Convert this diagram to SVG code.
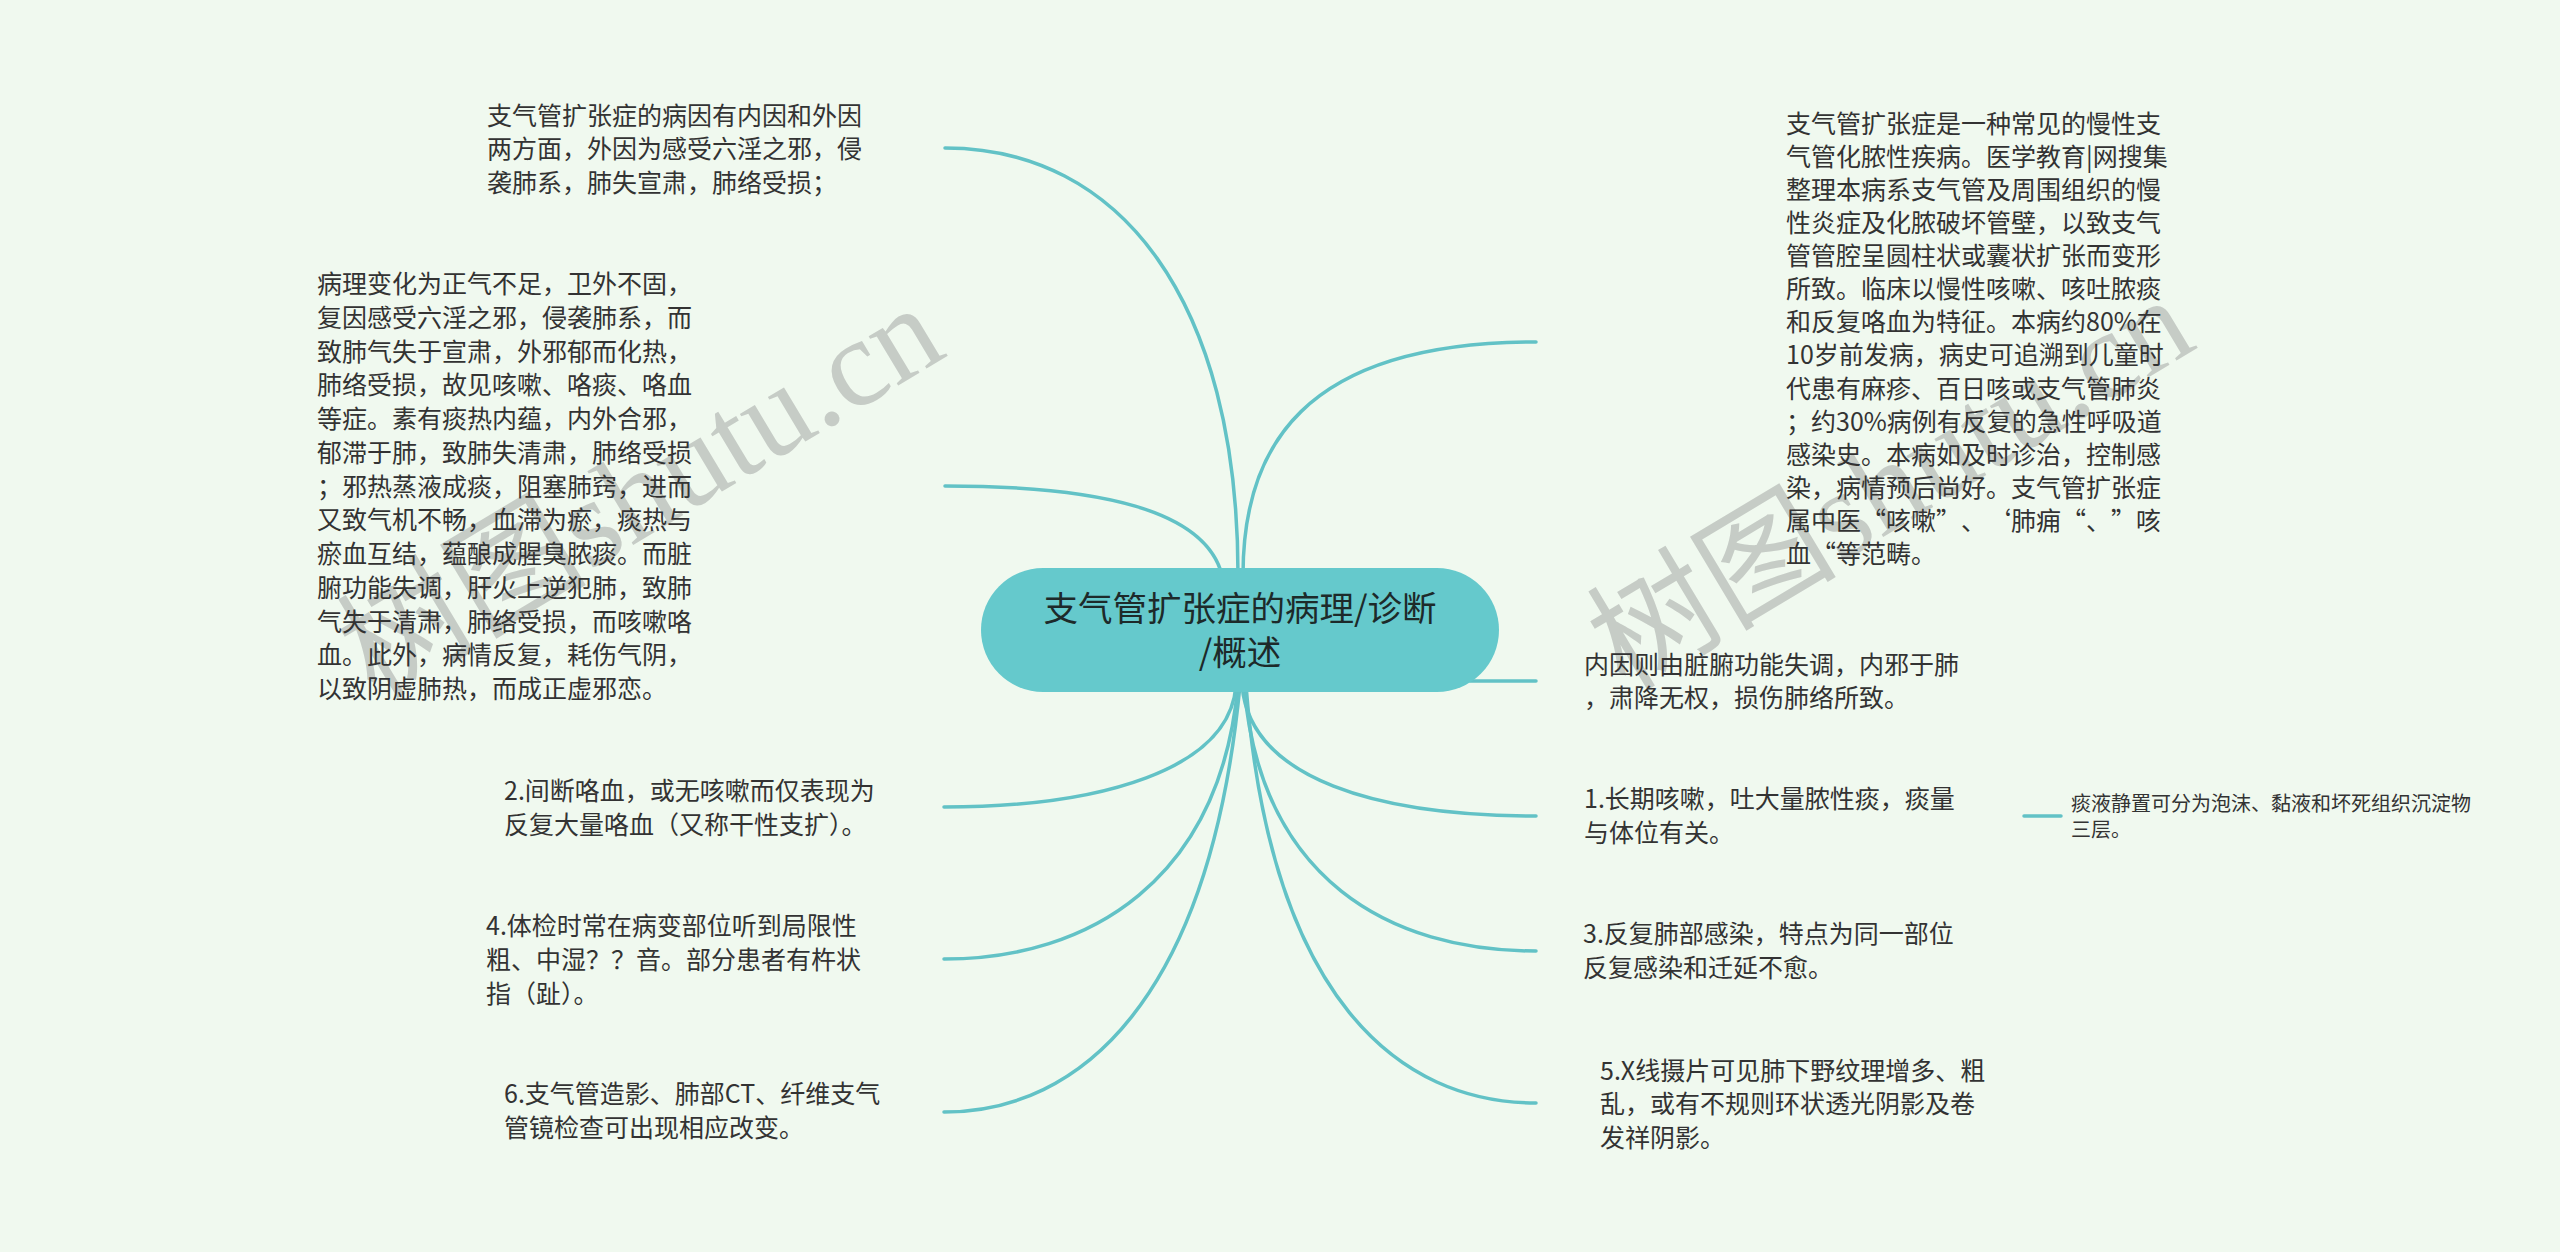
<svg xmlns="http://www.w3.org/2000/svg" width="2560" height="1252" viewBox="0 0 2560 1252">
<style>
.t{font-family:"Noto Sans CJK SC","Noto Sans",sans-serif;font-size:25px;fill:#333333}
.s{font-family:"Noto Sans CJK SC","Noto Sans",sans-serif;font-size:20px;fill:#333333}
.c{font-family:"Noto Sans CJK SC","Noto Sans",sans-serif;font-size:34.5px;fill:#1d2a2a;text-anchor:middle}
.wm{font-family:"Liberation Serif","Noto Sans CJK SC",serif;font-size:125px;fill:#c6ccc6}
.ln{fill:none;stroke:#62c2c6;stroke-width:3.5;stroke-linecap:round}
</style>
<rect x="0" y="0" width="2560" height="1252" fill="#f0f9ef"/>
<g id="watermarks">
<text class="wm" transform="translate(375,700) rotate(-31)">树图shutu.cn</text>
<text class="wm" transform="translate(1625,692) rotate(-31)">树图shutu.cn</text>
</g>
<g id="connectors">
<path class="ln" d="M945,148 C1120,148 1238,300 1238,575"/>
<path class="ln" d="M945,486 C1100,486 1205,510 1222,575"/>
<path class="ln" d="M1243,575 C1243,450 1300,342 1536,342"/>
<path class="ln" d="M1470,681 L1536,681"/>
<path class="ln" d="M1236,685 C1230,770 1100,807 944,807"/>
<path class="ln" d="M1238,685 C1220,880 1090,959 944,959"/>
<path class="ln" d="M1240,685 C1210,1000 1080,1112 944,1112"/>
<path class="ln" d="M1242,685 C1250,780 1380,816 1536,816"/>
<path class="ln" d="M1244,685 C1260,880 1390,951 1536,951"/>
<path class="ln" d="M1246,685 C1270,1000 1400,1103 1536,1103"/>
<path class="ln" d="M2024,816 L2061,816"/>
</g>
<g id="center">
<rect x="981" y="568" width="518" height="124" rx="62" ry="62" fill="#65c9cc"/>
<text class="c"><tspan x="1240" y="621">支气管扩张症的病理/诊断</tspan><tspan x="1240" y="665">/概述</tspan></text>
</g>
<g id="node-l1">
<text class="t"><tspan x="487" y="125">支气管扩张症的病因有内因和外因</tspan><tspan x="487" y="158">两方面，外因为感受六淫之邪，侵</tspan><tspan x="487" y="192">袭肺系，肺失宣肃，肺络受损；</tspan></text>
</g>
<g id="node-l2">
<text class="t"><tspan x="317" y="293">病理变化为正气不足，卫外不固，</tspan><tspan x="317" y="327">复因感受六淫之邪，侵袭肺系，而</tspan><tspan x="317" y="361">致肺气失于宣肃，外邪郁而化热，</tspan><tspan x="317" y="394">肺络受损，故见咳嗽、咯痰、咯血</tspan><tspan x="317" y="428">等症。素有痰热内蕴，内外合邪，</tspan><tspan x="317" y="462">郁滞于肺，致肺失清肃，肺络受损</tspan><tspan x="317" y="496">；邪热蒸液成痰，阻塞肺窍，进而</tspan><tspan x="317" y="529">又致气机不畅，血滞为瘀，痰热与</tspan><tspan x="317" y="563">瘀血互结，蕴酿成腥臭脓痰。而脏</tspan><tspan x="317" y="597">腑功能失调，肝火上逆犯肺，致肺</tspan><tspan x="317" y="631">气失于清肃，肺络受损，而咳嗽咯</tspan><tspan x="317" y="664">血。此外，病情反复，耗伤气阴，</tspan><tspan x="317" y="698">以致阴虚肺热，而成正虚邪恋。</tspan></text>
</g>
<g id="node-l3">
<text class="t"><tspan x="504" y="800">2.间断咯血，或无咳嗽而仅表现为</tspan><tspan x="504" y="834">反复大量咯血（又称干性支扩）。</tspan></text>
</g>
<g id="node-l4">
<text class="t"><tspan x="486" y="935">4.体检时常在病变部位听到局限性</tspan><tspan x="486" y="969">粗、中湿？？音。部分患者有杵状</tspan><tspan x="486" y="1003">指（趾）。</tspan></text>
</g>
<g id="node-l5">
<text class="t"><tspan x="504" y="1103">6.支气管造影、肺部CT、纤维支气</tspan><tspan x="504" y="1137">管镜检查可出现相应改变。</tspan></text>
</g>
<g id="node-r1">
<text class="t"><tspan x="1786" y="133">支气管扩张症是一种常见的慢性支</tspan><tspan x="1786" y="166">气管化脓性疾病。医学教育|网搜集</tspan><tspan x="1786" y="199">整理本病系支气管及周围组织的慢</tspan><tspan x="1786" y="232">性炎症及化脓破坏管壁，以致支气</tspan><tspan x="1786" y="265">管管腔呈圆柱状或囊状扩张而变形</tspan><tspan x="1786" y="298">所致。临床以慢性咳嗽、咳吐脓痰</tspan><tspan x="1786" y="331">和反复咯血为特征。本病约80%在</tspan><tspan x="1786" y="364">10岁前发病，病史可追溯到儿童时</tspan><tspan x="1786" y="398">代患有麻疹、百日咳或支气管肺炎</tspan><tspan x="1786" y="431">；约30%病例有反复的急性呼吸道</tspan><tspan x="1786" y="464">感染史。本病如及时诊治，控制感</tspan><tspan x="1786" y="497">染，病情预后尚好。支气管扩张症</tspan><tspan x="1786 1811 1836 1861 1886 1911 1936 1961 1986 2011 2036 2061 2086 2111 2136" y="530">属中医“咳嗽”、‘肺痈“、”咳</tspan><tspan x="1786 1811 1836 1861 1886 1911" y="563">血“等范畴。</tspan></text>
</g>
<g id="node-r2">
<text class="t"><tspan x="1584" y="674">内因则由脏腑功能失调，内邪于肺</tspan><tspan x="1584" y="707">，肃降无权，损伤肺络所致。</tspan></text>
</g>
<g id="node-r3">
<text class="t"><tspan x="1584" y="808">1.长期咳嗽，吐大量脓性痰，痰量</tspan><tspan x="1584" y="842">与体位有关。</tspan></text>
</g>
<g id="node-r3a">
<text class="s"><tspan x="2071" y="811">痰液静置可分为泡沫、黏液和坏死组织沉淀物</tspan><tspan x="2071" y="837">三层。</tspan></text>
</g>
<g id="node-r4">
<text class="t"><tspan x="1583" y="943">3.反复肺部感染，特点为同一部位</tspan><tspan x="1583" y="977">反复感染和迁延不愈。</tspan></text>
</g>
<g id="node-r5">
<text class="t"><tspan x="1600" y="1080">5.X线摄片可见肺下野纹理增多、粗</tspan><tspan x="1600" y="1113">乱，或有不规则环状透光阴影及卷</tspan><tspan x="1600" y="1147">发祥阴影。</tspan></text>
</g>
</svg>
